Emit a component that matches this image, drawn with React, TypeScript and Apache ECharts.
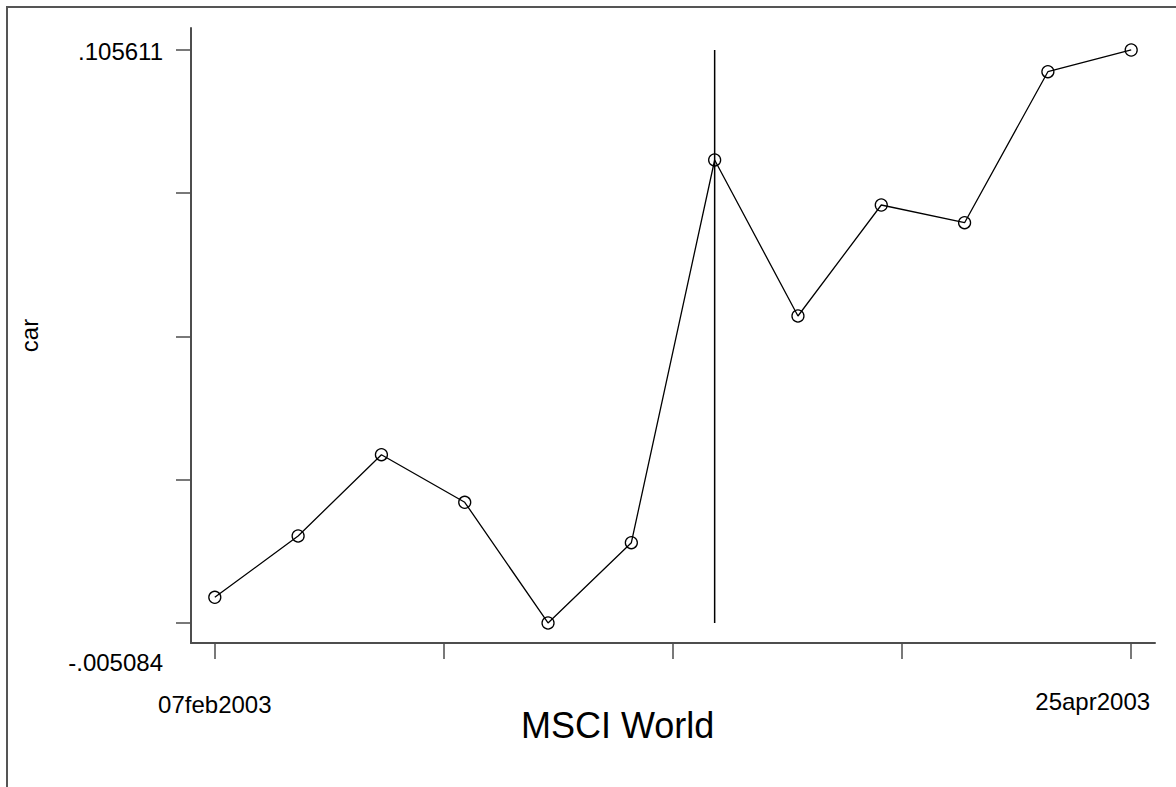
import React, { useEffect, useRef } from 'react';
import * as echarts from 'echarts';

// ---- data ----
const dates = [
  '07feb2003', '14feb2003', '21feb2003', '28feb2003', '07mar2003', '14mar2003',
  '21mar2003', '28mar2003', '04apr2003', '11apr2003', '18apr2003', '25apr2003',
];
const carValues = [
  -0.00012, 0.011723, 0.027429, 0.018233, -0.005084, 0.010429,
  0.084361, 0.054224, 0.075667, 0.072248, 0.101419, 0.105611,
];
const eventDate = '21mar2003';
const xTickDays = [0, 19.25, 38.5, 57.75, 77];
const xTickLabels = ['07feb2003', '25apr2003'];
const yTickValues = [-0.005084, 0.02258975, 0.0502635, 0.07793725, 0.105611];
const yTickLabels = ['-.005084', '.105611'];
const yLabelValues = [-0.005084, 0.105611];
const xTitle = 'MSCI World';
const yTitle = 'car';

const MON: Record<string, number> = {
  jan: 0, feb: 1, mar: 2, apr: 3, may: 4, jun: 5, jul: 6, aug: 7, sep: 8, oct: 9, nov: 10, dec: 11,
};
function stataDay(s: string): number {
  const d = parseInt(s.slice(0, 2), 10);
  const m = MON[s.slice(2, 5)];
  const y = parseInt(s.slice(5), 10);
  return Date.UTC(y, m, d) / 86400000;
}
const day0 = stataDay(dates[0]);
const xDays = dates.map((d) => stataDay(d) - day0);
const xLabelDays = xTickLabels.map((d) => stataDay(d) - day0);
const eventDay = stataDay(eventDate) - day0;

const FONT = "'Liberation Sans', Arial, sans-serif";
const AXIS_COLOR = '#4d4d4d';

export default function App() {
  const ref = useRef<HTMLDivElement>(null);
  useEffect(() => {
    if (!ref.current) return;
    const chart = echarts.init(ref.current, undefined, { renderer: 'svg' });
    const yMin = Math.min(...carValues);
    const yMax = Math.max(...carValues);
    const txt = { fontSize: 24, fontFamily: FONT, color: '#000', lineHeight: 24 };
    chart.setOption({
      animation: false,
      backgroundColor: '#fff',
      title: {
        text: xTitle,
        left: 521,
        top: 707,
        padding: 0,
        textStyle: { fontSize: 36, fontWeight: 'normal', fontFamily: FONT, color: '#000', lineHeight: 36 },
      },
      graphic: [
        {
          type: 'rect',
          shape: { x: 7, y: 7, width: 1400, height: 1400 },
          style: { fill: 'none', stroke: '#555', lineWidth: 2 },
          silent: true,
        },
      ],
      grid: { left: 191, right: 21, top: 28, bottom: 144, containLabel: false, outerBoundsMode: 'none' },
      xAxis: {
        type: 'value',
        min: -2,
        max: 79,
        splitLine: { show: false },
        axisLine: { show: true, onZero: false, lineStyle: { color: AXIS_COLOR, width: 2 } },
        axisTick: { show: true, customValues: xTickDays, length: 16, lineStyle: { color: AXIS_COLOR, width: 1.5 } },
        axisLabel: {
          show: true,
          customValues: xLabelDays,
          margin: 46,
          ...txt,
          formatter: (v: number) => {
            const i = xLabelDays.findIndex((d) => Math.abs(d - v) < 1e-6);
            if (i < 0) return '';
            return i === 0 ? `{first|${xTickLabels[i]}}` : `{last|${xTickLabels[i]}}`;
          },
          rich: {
            first: { ...txt, padding: [6, 0, 0, 0] },
            last: { ...txt, padding: [0, 77, 0, 0] },
          },
        },
      },
      yAxis: {
        type: 'value',
        min: -0.00895,
        max: 0.10986,
        name: yTitle,
        nameLocation: 'middle',
        nameRotate: 90,
        nameGap: 150,
        nameTextStyle: { fontSize: 24, fontFamily: FONT, color: '#000' },
        splitLine: { show: false },
        axisLine: { show: true, onZero: false, lineStyle: { color: AXIS_COLOR, width: 2 } },
        axisTick: { show: true, customValues: yTickValues, length: 15, lineStyle: { color: AXIS_COLOR, width: 1.5 } },
        axisLabel: {
          show: true,
          customValues: yLabelValues,
          margin: 28,
          ...txt,
          formatter: (v: number) => {
            const i = yLabelValues.findIndex((d) => Math.abs(d - v) < 1e-9);
            if (i < 0) return '';
            return i === 0 ? `{lo|${yTickLabels[i]}}` : `{hi|${yTickLabels[i]}}`;
          },
          rich: {
            lo: { ...txt, padding: [79, 0, 0, 0] },
            hi: { ...txt, padding: [4, 0, 0, 0] },
          },
        },
      },
      series: [
        {
          type: 'line',
          name: 'event',
          data: [[eventDay, yMin], [eventDay, yMax]],
          symbol: 'none',
          lineStyle: { color: '#000', width: 1.5 },
          z: 1,
          silent: true,
        },
        {
          type: 'line',
          name: yTitle,
          data: xDays.map((x, i) => [x, carValues[i]]),
          symbol: 'circle',
          symbolSize: 12,
          lineStyle: { color: '#000', width: 1.3 },
          itemStyle: { color: 'rgba(0,0,0,0)', borderColor: '#000', borderWidth: 1.3 },
          z: 2,
        },
      ],
    });
    return () => chart.dispose();
  }, []);
  return (
    <div
      ref={ref}
      style={{ position: 'fixed', left: 0, top: 0, width: 1176, height: 787, background: '#fff' }}
    />
  );
}
